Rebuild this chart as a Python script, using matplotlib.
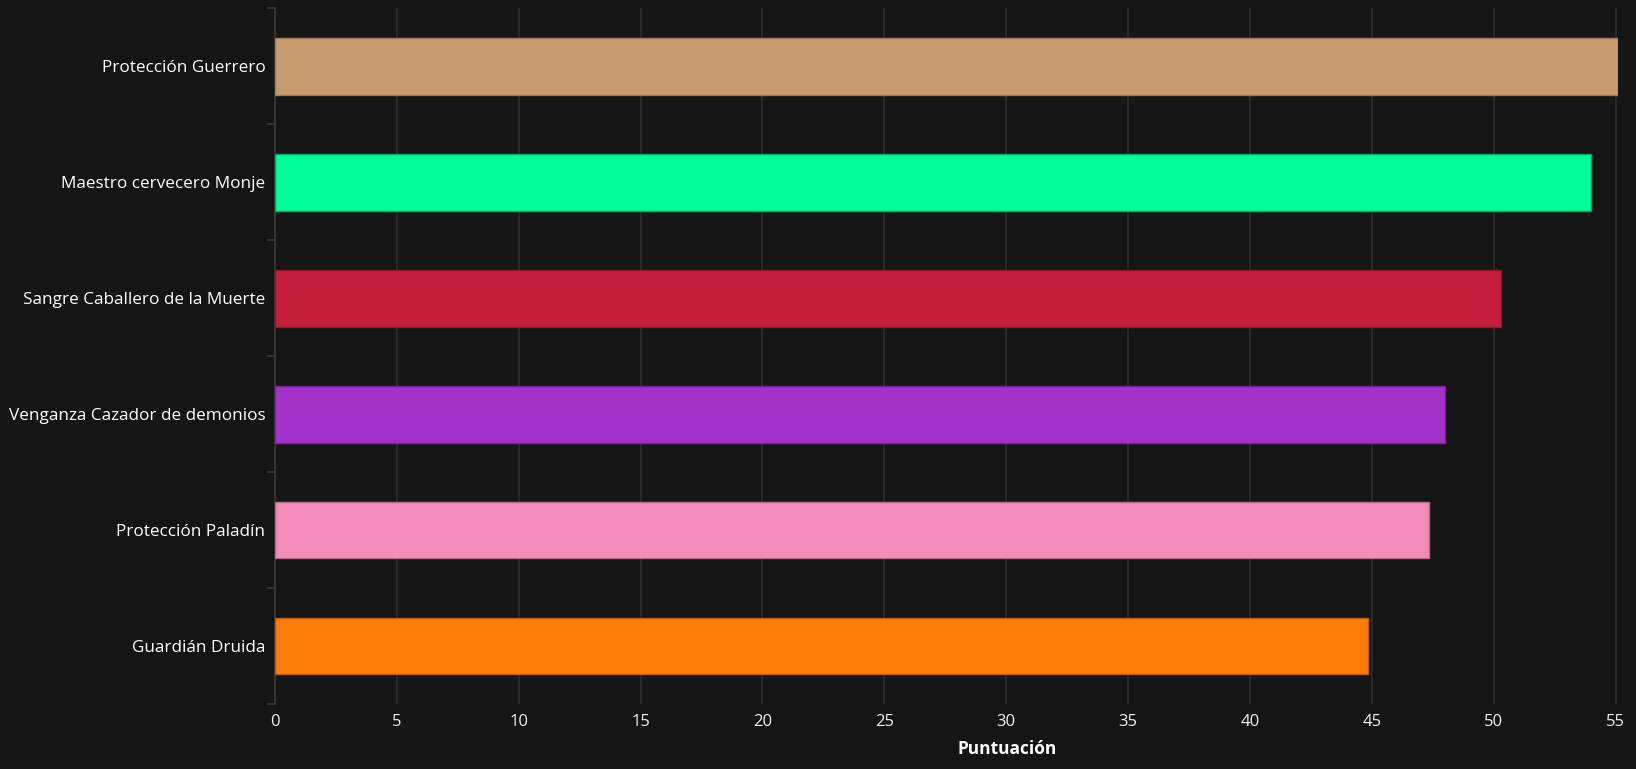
import matplotlib
matplotlib.use("Agg")
import matplotlib.pyplot as plt
import numpy as np

categories = ["Protección Guerrero", "Maestro cervecero Monje", "Sangre Caballero de la Muerte",
              "Venganza Cazador de demonios", "Protección Paladín", "Guardián Druida"]
values = [55.1, 54.0, 50.3, 48.0, 47.35, 44.85]
colors = ["#C69B6D", "#00FF98", "#C41E3A", "#A330C9", "#F48CBA", "#FF7C0A"]
edge_colors = ["#9e7c57", "#00a866", "#8f1629", "#7a2496", "#b36888", "#bf5d08"]
xticks = [0, 5, 10, 15, 20, 25, 30, 35, 40, 45, 50, 55]
xlabel = "Puntuación"

plt.rcParams['font.family'] = ['Open Sans', 'DejaVu Sans']
bg = "#151515"
fig = plt.figure(figsize=(16.36, 7.69), dpi=100, facecolor=bg)
ax = fig.add_axes([275/1636, 1-704/769, (1618-275)/1636, (704-8.3)/769])
ax.set_facecolor(bg)

y = np.arange(len(categories))
ax.barh(y, values, height=0.49, color=colors, edgecolor=edge_colors, linewidth=1.0, zorder=3)
ax.set_ylim(len(categories)-0.5, -0.5)
ax.set_xlim(0, max(values))

ax.set_xticks(xticks)
ax.set_xticklabels([str(t) for t in xticks])
ax.grid(axis='x', color="#2c2c2c", linewidth=1.2, zorder=0)
ax.tick_params(axis='x', length=0, pad=7, labelsize=12, labelcolor="#f0f0f0")

ax.set_yticks(y)
ax.set_yticklabels(categories)
ax.set_yticks(np.arange(-0.5, len(categories), 1.0), minor=True)
ax.tick_params(axis='y', which='major', length=0, pad=7, labelsize=12.3, labelcolor="#ffffff")
ax.tick_params(axis='y', which='minor', length=6, width=1.2, color="#3a3a3a")

for s in ['top', 'right', 'bottom']:
    ax.spines[s].set_visible(False)
ax.spines['left'].set_color("#3a3a3a")
ax.spines['left'].set_linewidth(1.2)

fig.text(1007/1636, 1-749/769, xlabel, ha='center', va='center', fontsize=12.5,
         fontweight='bold', color="#ffffff")

fig.savefig("out.png", dpi=100, facecolor=bg)
